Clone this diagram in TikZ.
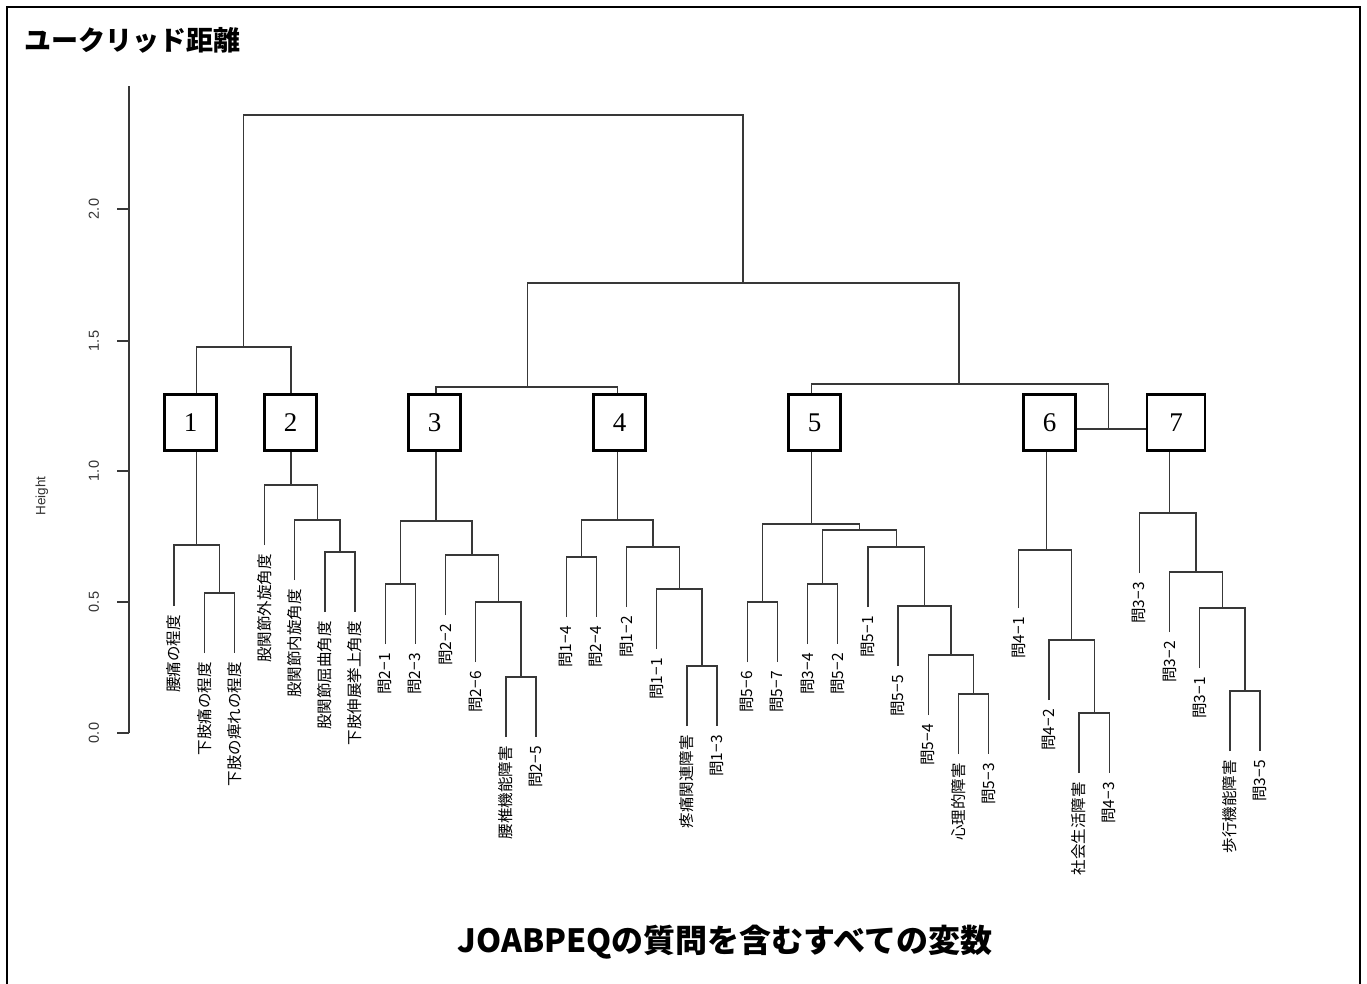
\documentclass[tikz,border=0pt]{standalone}
\usepackage{fontspec}
\newfontfamily\jp{Noto Sans CJK JP}
\newfontfamily\arialf{Liberation Sans}
\newfontfamily\tmsfont{Liberation Serif}
\begin{document}
\begin{tikzpicture}[x=1pt,y=-1pt,
  dend/.style={line width=1.3pt, draw=black!78},
  clbox/.style={draw=black, line width=2.2pt, fill=white, minimum width=52pt, minimum height=56pt, inner sep=0pt, font=\tmsfont\fontsize{27}{27}\selectfont},
  leaf/.style={rotate=90, anchor=east, inner sep=0pt, font=\jp\fontsize{15.5}{15.5}\selectfont},
  ticklab/.style={rotate=90, inner sep=0pt, text=black!80, font=\arialf\fontsize{14.5}{14.5}\selectfont},
  frame/.style={line width=2pt, draw=black}]
\useasboundingbox (0,0) rectangle (1367,983);
\fill[white] (0,0) rectangle (1367,983);
% frame
\coordinate (f1) at (7,990); \coordinate (f2) at (7,7); \coordinate (f3) at (1360,7); \coordinate (f4) at (1360,990);
\draw[frame] (f1) -- (f2) -- (f3) -- (f4);
% titles
\node[anchor=west, inner sep=0pt, font=\jp\bfseries\fontsize{27}{27}\selectfont] (title) at (24,40) {ユークリッド距離};
\node[inner sep=0pt, font=\jp\bfseries\fontsize{32}{32}\selectfont] (subtitle) at (725,942) {JOABPEQの質問を含むすべての変数};
% axis
\coordinate (axtop) at (129,86); \coordinate (axbot) at (129,733);
\draw[dend] (axtop) -- (axbot);
\foreach \v/\y in {0.0/733,0.5/602,1.0/471,1.5/341,2.0/209}{
  \coordinate (tk\y) at (129,\y); \coordinate (tl\y) at (117,\y);
  \draw[dend] (tk\y) -- (tl\y);
  \node[ticklab] (lab\y) at (94,\y) {\v};
}
\node[ticklab, font=\arialf\fontsize{13.5}{13.5}\selectfont] (ylab) at (42,496) {Height};
% leaves
\foreach \i/\x/\e/\t in {
 0/174.0/606/腰痛の程度, 1/204.2/653/下肢痛の程度, 2/234.3/653/下肢の痺れの程度,
 3/264.5/545/股関節外旋角度, 4/294.7/580/股関節内旋角度, 5/324.9/612/股関節屈曲角度, 6/355.0/612/下肢伸展挙上角度,
 7/385.2/644/問2−1, 8/415.4/644/問2−3, 9/445.5/615/問2−2, 10/475.7/662/問2−6, 11/505.9/737/腰椎機能障害, 12/536.0/737/問2−5,
 13/566.2/617/問1−4, 14/596.4/617/問2−4, 15/626.6/607/問1−2, 16/656.7/649/問1−1, 17/686.9/726/疼痛関連障害, 18/717.1/726/問1−3,
 19/747.2/662/問5−6, 20/777.4/662/問5−7, 21/807.6/644/問3−4, 22/837.7/644/問5−2, 23/867.9/607/問5−1, 24/898.1/666/問5−5, 25/928.3/715/問5−4, 26/958.4/754/心理的障害, 27/988.6/754/問5−3,
 28/1018.8/608/問4−1, 29/1048.9/700/問4−2, 30/1079.1/773/社会生活障害, 31/1109.3/773/問4−3,
 32/1139.4/573/問3−3, 33/1169.6/632/問3−2, 34/1199.8/668/問3−1, 35/1229.9/751/歩行機能障害, 36/1260.1/751/問3−5}{
  \coordinate (l\i) at (\x,\e);
  \node[leaf] (t\i) at (\x,\e+9) {\t};
}
% merge points
\coordinate (m1a) at (219.25,593); \coordinate (m1) at (196.6,545);
\coordinate (m2c) at (340.0,552); \coordinate (m2b) at (317.3,520); \coordinate (m2) at (290.9,485);
\coordinate (m3a) at (400.3,584); \coordinate (m3d) at (521.0,677); \coordinate (m3c) at (498.3,602); \coordinate (m3b) at (471.9,555); \coordinate (m3) at (436.1,521);
\coordinate (m4a) at (581.3,557); \coordinate (m4d) at (702.0,666); \coordinate (m4c) at (679.3,589); \coordinate (m4b) at (653.0,547); \coordinate (m4) at (617.6,520);
\coordinate (m5a) at (762.3,602); \coordinate (m5b) at (822.7,584); \coordinate (m5f) at (973.5,694); \coordinate (m5e) at (950.9,655); \coordinate (m5d) at (924.5,606); \coordinate (m5c) at (896.2,547); \coordinate (m5g) at (859.4,530); \coordinate (m5) at (811.5,524);
\coordinate (m6b) at (1094.2,713); \coordinate (m6a) at (1071.6,640); \coordinate (m6) at (1046.5,550);
\coordinate (m7c) at (1245.0,691); \coordinate (m7b) at (1222.4,608); \coordinate (m7a) at (1196.0,572); \coordinate (m7) at (1169.5,513);
\coordinate (C12) at (243.5,347); \coordinate (C34) at (527.5,387); \coordinate (C67) at (1108.5,429);
\coordinate (C567) at (959,384); \coordinate (CR) at (743,283); \coordinate (TOP) at (493,115);
% cluster subtrees
\draw[dend] (l1) |- (m1a) -| (l2);  \draw[dend] (l0) |- (m1) -| (m1a);
\draw[dend] (l5) |- (m2c) -| (l6);  \draw[dend] (l4) |- (m2b) -| (m2c);  \draw[dend] (l3) |- (m2) -| (m2b);
\draw[dend] (l7) |- (m3a) -| (l8);  \draw[dend] (l11) |- (m3d) -| (l12); \draw[dend] (l10) |- (m3c) -| (m3d);
\draw[dend] (l9) |- (m3b) -| (m3c); \draw[dend] (m3a) |- (m3) -| (m3b);
\draw[dend] (l13) |- (m4a) -| (l14); \draw[dend] (l17) |- (m4d) -| (l18); \draw[dend] (l16) |- (m4c) -| (m4d);
\draw[dend] (l15) |- (m4b) -| (m4c); \draw[dend] (m4a) |- (m4) -| (m4b);
\draw[dend] (l19) |- (m5a) -| (l20); \draw[dend] (l21) |- (m5b) -| (l22); \draw[dend] (l26) |- (m5f) -| (l27);
\draw[dend] (l25) |- (m5e) -| (m5f); \draw[dend] (l24) |- (m5d) -| (m5e); \draw[dend] (l23) |- (m5c) -| (m5d);
\draw[dend] (m5b) |- (m5g) -| (m5c); \draw[dend] (m5a) |- (m5) -| (m5g);
\draw[dend] (l30) |- (m6b) -| (l31); \draw[dend] (l29) |- (m6a) -| (m6b); \draw[dend] (l28) |- (m6) -| (m6a);
\draw[dend] (l35) |- (m7c) -| (l36); \draw[dend] (l34) |- (m7b) -| (m7c); \draw[dend] (l33) |- (m7a) -| (m7b); \draw[dend] (l32) |- (m7) -| (m7a);
% boxes
\node[clbox] (b1) at (190.5,422.5) {1};
\node[clbox] (b2) at (290.5,422.5) {2};
\node[clbox] (b3) at (434.5,422.5) {3};
\node[clbox] (b4) at (619.5,422.5) {4};
\node[clbox] (b5) at (814.5,422.5) {5};
\node[clbox] (b6) at (1049.5,422.5) {6};
\node[clbox, minimum width=58pt] (b7) at (1176,422.5) {7};
% from clusters up to boxes
\foreach \k in {1,...,7}{ \draw[dend] (m\k) -- (m\k |- b\k.south); }
% upper tree
\draw[dend] (b1.north -| m1) |- (C12) -| (b2.north -| m2);
\draw[dend] (b3.north -| m3) |- (C34) -| (b4.north -| m4);
\draw[dend] (b6.east |- C67) -- (b7.west |- C67);
\draw[dend] (b5.north -| m5) |- (C567) -| (C67);
\draw[dend] (C34) |- (CR) -| (C567);
\draw[dend] (C12) |- (TOP) -| (CR);
\end{tikzpicture}
\end{document}
